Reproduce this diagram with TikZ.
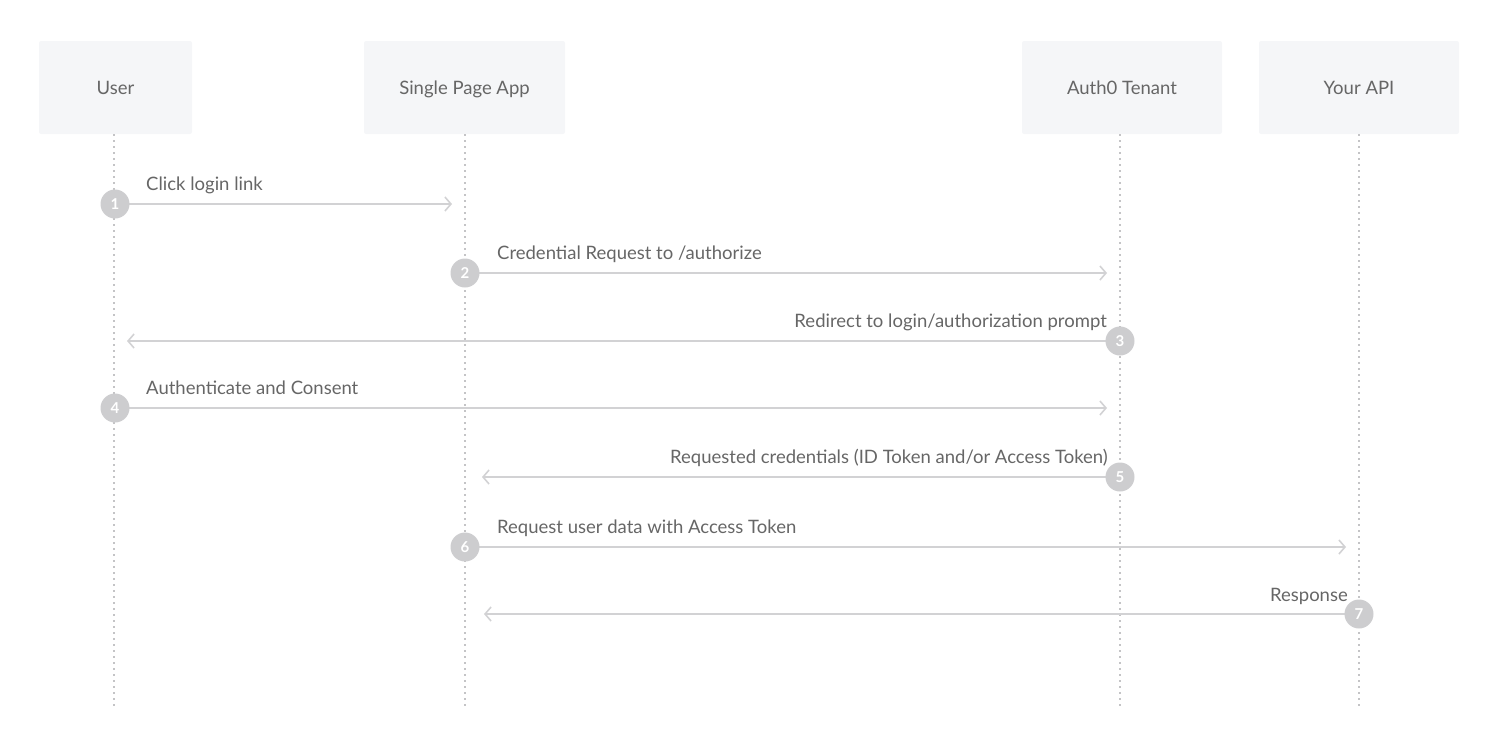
\documentclass[tikz,border=0pt]{standalone}
\usepackage{fontspec}
\setmainfont{Lato}
\usetikzlibrary{arrows.meta}
\definecolor{boxfill}{HTML}{F5F6F8}
\definecolor{linegray}{HTML}{D2D2D4}
\definecolor{dotgray}{HTML}{C4C4C6}
\definecolor{stepgray}{HTML}{CDCDCF}
\definecolor{textgray}{HTML}{666666}
\begin{document}
\begin{tikzpicture}
	[
		x=1pt, y=-1pt,
		actor/.style={fill=boxfill, rounded corners=2pt, minimum height=93pt, text height=13pt, text depth=0pt, text=textgray, font=\fontsize{18.5}{22}\selectfont},
		lifeline/.style={dotgray, line width=1.2pt, dash pattern=on 2pt off 4pt},
		stepdot/.style={circle, fill=stepgray, minimum size=29pt, inner sep=0pt, text=white, font=\fontsize{15}{17}\selectfont\bfseries},
		message/.style={linegray, line width=1.6pt, -{Straight Barb[length=6pt, width=14pt, line width=1.6pt]}},
		msglabel/.style={text=textgray, font=\fontsize{18.5}{22}\selectfont, inner sep=0pt}
	]
		\useasboundingbox (0,0) rectangle (1500,729);
		
		% Draw actor boxes.
		\node[actor, minimum width=153pt] (user) at (115.5,87.5) {User};
		\node[actor, minimum width=201pt] (spa) at (464.5,87.5) {Single Page App};
		\node[actor, minimum width=200pt] (auth) at (1122,87.5) {Auth0 Tenant};
		\node[actor, minimum width=200pt] (api) at (1359,87.5) {Your API};
		
		% Draw lifelines.
		\coordinate (userend) at (114,706);		\coordinate (spaend) at (465,706);
		\coordinate (authend) at (1120,706);		\coordinate (apiend) at (1359,706);
		\draw[lifeline] (user.south -| userend) -- (userend);
		\draw[lifeline] (spa.south -| spaend) -- (spaend);
		\draw[lifeline] (auth.south -| authend) -- (authend);
		\draw[lifeline] (api.south -| apiend) -- (apiend);
		
		% Draw messages.
		\coordinate (e1) at (452,204);
		\coordinate (e2) at (1107,273);
		\coordinate (e3) at (127,341);
		\coordinate (e4) at (1107,408);
		\coordinate (e5) at (482,477);
		\coordinate (e6) at (1346,547);
		\coordinate (e7) at (484,614);
		\draw[message] (115,204) -- (e1);
		\draw[message] (465,273) -- (e2);
		\draw[message] (1120,341) -- (e3);
		\draw[message] (115,408) -- (e4);
		\draw[message] (1120,477) -- (e5);
		\draw[message] (465,547) -- (e6);
		\draw[message] (1359,614) -- (e7);
		
		% Draw step numbers.
		\node[stepdot] (s1) at (115,204) {1};
		\node[stepdot] (s2) at (465,273) {2};
		\node[stepdot] (s3) at (1120,341) {3};
		\node[stepdot] (s4) at (115,408) {4};
		\node[stepdot] (s5) at (1120,477) {5};
		\node[stepdot] (s6) at (465,547) {6};
		\node[stepdot] (s7) at (1359,614) {7};
		
		% Draw message labels.
		\node[msglabel, anchor=base west] (l1) at (146,190) {Click login link};
		\node[msglabel, anchor=base west] (l2) at (497,259) {Credential Request to /authorize};
		\node[msglabel, anchor=base east] (l3) at (1107,327) {Redirect to login/authorization prompt};
		\node[msglabel, anchor=base west] (l4) at (146,394) {Authenticate and Consent};
		\node[msglabel, anchor=base east] (l5) at (1108,463) {Requested credentials (ID Token and/or Access Token)};
		\node[msglabel, anchor=base west] (l6) at (497,533) {Request user data with Access Token};
		\node[msglabel, anchor=base east] (l7) at (1348,601) {Response};
\end{tikzpicture}
\end{document}
